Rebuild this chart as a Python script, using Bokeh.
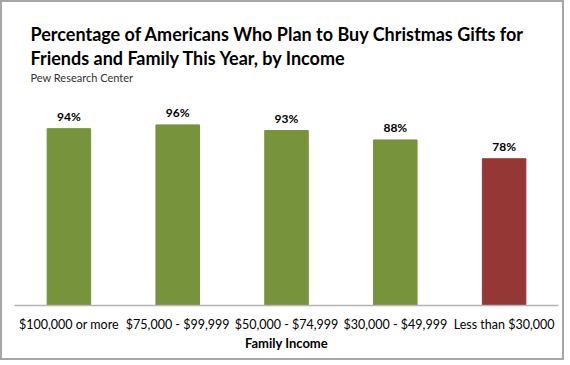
from bokeh.plotting import figure
from bokeh.models import ColumnDataSource, Title, FactorRange
from bokeh.embed import file_html
from bokeh.resources import INLINE
from bokeh.core.properties import value

categories = ["$100,000 or more", "$75,000 - $99,999", "$50,000 - $74,999",
              "$30,000 - $49,999", "Less than $30,000"]
percentages = [94, 96, 93, 88, 78]
labels = ["94%", "96%", "93%", "88%", "78%"]

GREEN = "#77933C"
RED = "#953735"
bar_colors = [GREEN, GREEN, GREEN, GREEN, RED]

FONT = "Lato"

src = ColumnDataSource(dict(cat=categories, val=percentages, lab=labels, col=bar_colors))

p = figure(width=564, height=360, x_range=FactorRange(*categories, range_padding=0),
           y_range=(0, 118), output_backend="svg", toolbar_location=None,
           min_border_left=12, min_border_right=8, min_border_bottom=57, min_border_top=81)

p.add_layout(Title(text="Pew Research Center", text_font=FONT, text_font_size="11px",
                   text_font_style="normal", text_color="#333333", offset=16, standoff=0), "above")
p.add_layout(Title(text="Friends and Family This Year, by Income", text_font=FONT,
                   text_font_size="18px", text_font_style="bold", text_color="#000000",
                   offset=16, standoff=0), "above")
p.add_layout(Title(text="Percentage of Americans Who Plan to Buy Christmas Gifts for", text_font=FONT,
                   text_font_size="18px", text_font_style="bold", text_color="#000000",
                   offset=16, standoff=0), "above")

p.vbar(x="cat", top="val", width=0.4, color="col", source=src)
p.text(x="cat", y="val", text="lab", source=src, text_align="center", text_baseline="bottom",
       y_offset=-5, text_font=value(FONT), text_font_size="12px", text_font_style="bold",
       text_color="#000000")

p.yaxis.visible = False
p.xgrid.visible = False
p.ygrid.visible = False
p.xaxis.axis_label = "Family Income"
p.xaxis.axis_label_text_font = FONT
p.xaxis.axis_label_text_font_size = "13px"
p.xaxis.axis_label_text_font_style = "bold"
p.xaxis.axis_label_text_color = "#000000"
p.xaxis.axis_label_standoff = 0
p.xaxis.major_label_text_font = FONT
p.xaxis.major_label_text_font_size = "12.5px"
p.xaxis.major_label_text_color = "#000000"
p.xaxis.major_label_standoff = 11
p.xaxis.major_tick_out = 0
p.xaxis.major_tick_in = 0
p.xaxis.minor_tick_out = 0
p.xaxis.minor_tick_in = 0
p.xaxis.major_tick_line_color = None
p.xaxis.minor_tick_line_color = None
p.xaxis.axis_line_color = "#b5b5b5"
p.xaxis.axis_line_width = 1.5

p.outline_line_color = None
p.border_fill_color = "white"
p.background_fill_color = "white"
p.styles = {"border": "2px solid #a6a6a6"}

open("out.html", "w").write(file_html(p, INLINE))
